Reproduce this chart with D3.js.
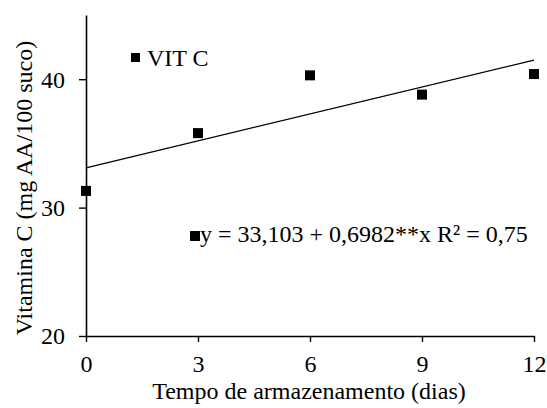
<!DOCTYPE html>
<html>
<head>
<meta charset="utf-8">
<script src="https://cdn.jsdelivr.net/npm/d3@7"></script>
<style>
  body { margin: 0; background: #fff; }
  svg text { font-family: "Liberation Serif", "DejaVu Serif", serif !important; fill: #000; }
</style>
</head>
<body>
<svg id="chart" width="547" height="408"></svg>
<script>
// data
var days = [0, 3, 6, 9, 12];
var vitC = [31.3, 35.8, 40.3, 38.8, 40.4];
var xTicks = [0, 3, 6, 9, 12];
var yTicks = [20, 30, 40];
var intercept = 33.103, slope = 0.6982;

var fs = "24px";

var svg = d3.select("#chart"),
  margin = {top: 15, right: 13, bottom: 72, left: 86},
  width = +svg.attr("width") - margin.left - margin.right,
  height = +svg.attr("height") - margin.top - margin.bottom,
  g = svg.append("g").attr("transform", "translate(" + margin.left + "," + margin.top + ")");

var x = d3.scaleLinear().domain([0, 12]).range([0, width]);
var y = d3.scaleLinear().domain([20, 45]).range([height, 0]);

// x axis
var xa = g.append("g")
  .attr("transform", "translate(0," + height + ")")
  .call(d3.axisBottom(x).tickValues(xTicks).tickSize(6).tickPadding(13).tickSizeOuter(0));
xa.attr("font-family", null);
xa.select(".domain").attr("stroke-width", 1.6);
xa.selectAll(".tick line").attr("stroke-width", 1.4);
xa.selectAll(".tick text").style("font-size", fs);

// y axis
var ya = g.append("g")
  .call(d3.axisLeft(y).tickValues(yTicks).tickSize(7).tickPadding(14).tickSizeOuter(0));
ya.attr("font-family", null);
ya.select(".domain").attr("stroke-width", 1.6);
ya.selectAll(".tick line").attr("stroke-width", 1.4);
ya.selectAll(".tick text").style("font-size", fs).attr("dy", "0.33em");

// regression line
g.append("line")
  .attr("x1", x(0)).attr("y1", y(intercept))
  .attr("x2", x(12)).attr("y2", y(intercept + slope * 12))
  .attr("stroke", "#000")
  .attr("stroke-width", 1.3);

// points
var s = 10;
g.selectAll(".pt")
  .data(days)
  .enter().append("rect")
  .attr("class", "pt")
  .attr("x", function(d) { return x(d) - s / 2; })
  .attr("y", function(d, i) { return y(vitC[i]) - s / 2; })
  .attr("width", s)
  .attr("height", s)
  .style("fill", "#000");

// legend
svg.append("rect").attr("x", 131).attr("y", 53).attr("width", 9).attr("height", 9).style("fill", "#000");
svg.append("text").attr("x", 147).attr("y", 66).style("font-size", fs).text("VIT C");

// equation
svg.append("rect").attr("x", 190).attr("y", 231).attr("width", 10).attr("height", 10).style("fill", "#000");
svg.append("text").attr("x", 200).attr("y", 242).style("font-size", fs)
  .text("y = 33,103 + 0,6982**x R² = 0,75");

// axis titles
svg.append("text")
  .attr("x", 309)
  .attr("y", 399)
  .attr("text-anchor", "middle")
  .style("font-size", fs)
  .text("Tempo de armazenamento (dias)");

svg.append("text")
  .attr("transform", "translate(32,188) rotate(-90)")
  .attr("text-anchor", "middle")
  .style("font-size", fs)
  .text("Vitamina C (mg AA/100 suco)");
</script>
</body>
</html>
